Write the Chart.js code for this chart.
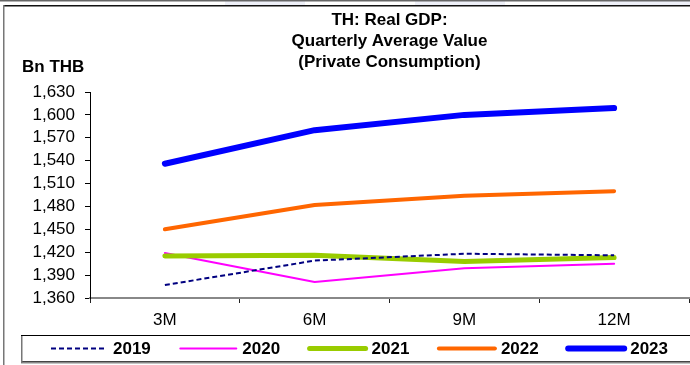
<!DOCTYPE html>
<html>
<head>
<meta charset="utf-8">
<script src="https://cdn.jsdelivr.net/npm/chart.js@4.4.0/dist/chart.umd.min.js"></script>
<style>
  html, body { margin: 0; padding: 0; background: #fff; }
  #chart { display: block; }
</style>
</head>
<body>
<canvas id="chart" width="690" height="365"></canvas>
<script>
// data
const periods = ["3M", "6M", "9M", "12M"];
const years = ["2019", "2020", "2021", "2022", "2023"];
const y2019 = [1377, 1409, 1418, 1416];
const y2020 = [1419, 1381, 1399, 1405];
const y2021 = [1415, 1416, 1408, 1413];
const y2022 = [1450, 1482, 1494, 1500];
const y2023 = [1536, 1580, 1600, 1609];
const titleLines = ["TH: Real GDP:", "Quarterly Average Value", "(Private Consumption)"];
const unitLabel = "Bn THB";
const yMin = 1360, yMax = 1630, yStep = 30;

const FONT = "'Liberation Sans', Arial, sans-serif";

// frame, title, unit label and the boxed legend
const decorPlugin = {
  id: "decor",
  beforeDraw(chart) {
    const ctx = chart.ctx;
    ctx.save();
    ctx.fillStyle = "#fff";
    ctx.fillRect(0, 0, chart.width, chart.height);
    // faint bluish strips at the very top
    ctx.fillStyle = "#eef0f8";
    ctx.fillRect(225, 1, 80, 4);
    ctx.fillRect(415, 1, 90, 4);
    ctx.fillRect(600, 1, 90, 4);
    // outer frame lines
    ctx.fillStyle = "#666";
    ctx.fillRect(0, 0, chart.width, 1.5);
    ctx.fillStyle = "#111";
    ctx.fillRect(3, 5, chart.width - 3, 1.5);
    ctx.fillStyle = "#777";
    ctx.fillRect(3, 5, 1.5, chart.height - 5);
    ctx.restore();
  },
  afterDraw(chart) {
    const ctx = chart.ctx;
    const area = chart.chartArea;
    ctx.save();
    ctx.fillStyle = "#000";
    ctx.textAlign = "center";
    ctx.textBaseline = "middle";
    ctx.font = "bold 17px " + FONT;
    const cx = (area.left + area.right) / 2;
    titleLines.forEach((t, i) => ctx.fillText(t, cx, 20 + i * 21));
    ctx.textAlign = "left";
    ctx.fillText(unitLabel, 22, 67);

    // legend box
    ctx.strokeStyle = "#000";
    ctx.lineWidth = 1;
    ctx.strokeRect(21.5, 335.5, 700, 26);
    ctx.fillStyle = "#888";
    ctx.fillRect(21, 361.5, chart.width, 2);
    ctx.fillStyle = "#777";
    ctx.fillRect(21, 336, 1.5, 27);

    const sets = chart.data.datasets;
    sets.forEach((ds, i) => {
      const x0 = 51 + i * 129.3;
      const y = 348.5;
      const dashed = ds.borderDash.length > 0;
      ctx.save();
      ctx.strokeStyle = ds.borderColor;
      ctx.lineWidth = ds.borderWidth;
      ctx.lineCap = dashed ? "butt" : "round";
      ctx.setLineDash(ds.borderDash);
      ctx.beginPath();
      ctx.moveTo(x0, y);
      ctx.lineTo(x0 + 56, y);
      ctx.stroke();
      ctx.restore();
      ctx.fillStyle = "#000";
      ctx.font = "bold 17px " + FONT;
      ctx.textBaseline = "middle";
      ctx.fillText(ds.label, x0 + 62, y + 1);
    });
    ctx.restore();
  }
};

function lineSet(label, data, color, width, dash, order) {
  return {
    label: label,
    data: data,
    borderColor: color,
    backgroundColor: color,
    borderWidth: width,
    borderDash: dash,
    borderCapStyle: dash.length ? "butt" : "round",
    borderJoinStyle: "round",
    pointRadius: 0,
    pointHoverRadius: 0,
    tension: 0,
    fill: false,
    order: order
  };
}

new Chart(document.getElementById("chart"), {
  type: "line",
  data: {
    labels: periods,
    datasets: [
      lineSet(years[0], y2019, "#000080", 2, [5, 3], 3),
      lineSet(years[1], y2020, "#ff00ff", 2, [], 5),
      lineSet(years[2], y2021, "#99cc00", 5, [], 4),
      lineSet(years[3], y2022, "#ff6600", 4, [], 2),
      lineSet(years[4], y2023, "#0000ff", 6, [], 1)
    ]
  },
  options: {
    responsive: false,
    devicePixelRatio: 1,
    animation: false,
    events: [],
    layout: { padding: { left: 0, right: 1, top: 92, bottom: 0 } },
    plugins: {
      legend: { display: false },
      title: { display: false },
      tooltip: { enabled: false }
    },
    scales: {
      x: {
        offset: true,
        grid: { offset: true, drawOnChartArea: false, drawTicks: true, tickLength: 5, color: "#222" },
        border: { display: true, color: "#888", width: 2 },
        ticks: { color: "#000", font: { family: FONT, size: 17 }, padding: 7, maxRotation: 0, autoSkip: false },
        afterFit(scale) { scale.height = 67; }
      },
      y: {
        min: yMin,
        max: yMax,
        ticks: {
          stepSize: yStep,
          autoSkip: false,
          color: "#000",
          padding: 10,
          font: { family: FONT, size: 17, lineHeight: 1 },
          callback: (v) => v.toLocaleString("en-US")
        },
        grid: { drawOnChartArea: false, drawTicks: true, tickLength: 5, color: "#000" },
        border: { display: true, color: "#000", width: 1 },
        afterFit(scale) { scale.width = 90; }
      }
    }
  },
  plugins: [decorPlugin]
});
</script>
</body>
</html>
